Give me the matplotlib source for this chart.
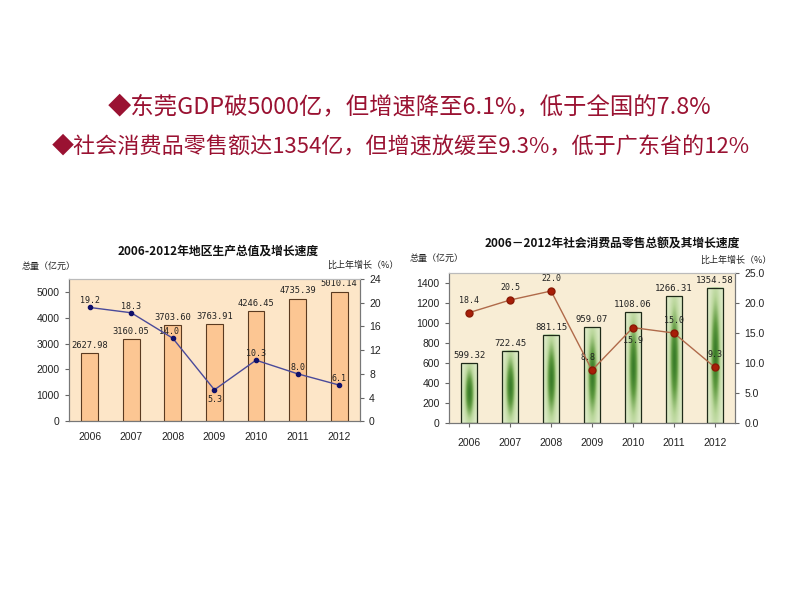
import numpy as np
import matplotlib
matplotlib.use("Agg")
import matplotlib.pyplot as plt
from matplotlib.colors import LinearSegmentedColormap

plt.rcParams['font.family'] = ['Noto Sans CJK SC', 'DejaVu Sans']

years = ['2006', '2007', '2008', '2009', '2010', '2011', '2012']
gdp = [2627.98, 3160.05, 3703.60, 3763.91, 4246.45, 4735.39, 5010.14]
gdp_growth = [19.2, 18.3, 14.0, 5.3, 10.3, 8.0, 6.1]
retail = [599.32, 722.45, 881.15, 959.07, 1108.06, 1266.31, 1354.58]
retail_growth = [18.4, 20.5, 22.0, 8.8, 15.9, 15.0, 9.3]

left_title = '2006-2012年地区生产总值及增长速度'
right_title = '2006－2012年社会消费品零售总额及其增长速度'
headline1 = '◆东莞GDP破5000亿，但增速降至6.1%，低于全国的7.8%'
headline2 = '◆社会消费品零售额达1354亿，但增速放缓至9.3%，低于广东省的12%'

red = '#9a1232'
fig = plt.figure(figsize=(8, 6), dpi=100)
fig.patch.set_facecolor('white')
fig.text(0.135, 1 - 107/600, headline1, fontsize=16.8, color=red, va='center', ha='left', fontweight='medium')
fig.text(0.065, 1 - 147/600, headline2, fontsize=15.9, color=red, va='center', ha='left', fontweight='medium')

x = np.arange(len(years))
mono = 'DejaVu Sans Mono'
sans = 'Liberation Sans'

def style_ticks(a):
    for lab in a.get_yticklabels() + a.get_xticklabels():
        lab.set_family(sans)
        lab.set_fontsize(7.5)
        lab.set_color('#222222')

# ---------- Left chart ----------
ax1 = fig.add_axes([0.086, 0.298, 0.364, 0.237])
ax1.set_facecolor('#fde6c8')
ax1.bar(x, gdp, width=0.4, color='#fcc693', edgecolor='#5a3a20', linewidth=0.8, zorder=2)
ax1.set_xlim(-0.5, 6.5)
ax1.set_ylim(0, 5500)
ax1.set_yticks(range(0, 5001, 1000))
ax1.set_xticks(x)
ax1.set_xticklabels(years)
ax1.tick_params(axis='y', length=3, color='#666666')
ax1.tick_params(axis='x', length=0, pad=8)
style_ticks(ax1)
for i, v in enumerate(gdp):
    ax1.text(i, v + 130, f'{v:.2f}', ha='center', va='bottom', fontsize=6.3, family=mono, color='#222222', zorder=5)
ax1b = ax1.twinx()
ax1b.set_ylim(0, 24)
ax1b.set_yticks(range(0, 25, 4))
ax1b.tick_params(axis='y', length=3, color='#666666')
style_ticks(ax1b)
ax1b.plot(x, gdp_growth, color='#4a4a9a', linewidth=1.0, marker='o', markersize=3,
          markerfacecolor='#10106a', markeredgecolor='#10106a', zorder=4)
offs1 = [(0, 1.1), (0, 1.1), (-0.1, 1.1), (0, -1.6), (0, 1.1), (0, 1.1), (0, 1.1)]
for i, v in enumerate(gdp_growth):
    dx, dy = offs1[i]
    ax1b.text(i + dx, v + dy, f'{v:.1f}', ha='center', va='center', fontsize=6, family=mono, color='#222222')
for a in (ax1, ax1b):
    for s in a.spines.values():
        s.set_color('#777777')
        s.set_linewidth(0.8)
    a.spines['top'].set_color('#bbbbbb')
fig.text(218/800, 1 - 251/600, left_title, ha='center', va='center', fontsize=8.5, fontweight='bold', color='#111111')
fig.text(22/800, 1 - 266/600, '总量（亿元）', ha='left', va='center', fontsize=6.5, color='#222222')
fig.text(327/800, 1 - 265/600, '比上年增长（%）', ha='left', va='center', fontsize=6.5, color='#222222')

# ---------- Right chart ----------
ax2 = fig.add_axes([0.561, 0.295, 0.358, 0.25])
ax2.set_facecolor('#f8edd5')
ax2.set_xlim(-0.5, 6.5)
ax2.set_ylim(0, 1500)
ax2.set_yticks(range(0, 1401, 200))
ax2.set_xticks(x)
ax2.set_xticklabels(years)
ax2.tick_params(axis='y', length=3, color='#666666')
ax2.tick_params(axis='x', length=3, pad=8, color='#666666')
style_ticks(ax2)

cmap = LinearSegmentedColormap.from_list('g', ['#e6efd2', '#b9d69a', '#5f9a40', '#2a7020'])
w = 0.4
ny, nx = 120, 40
yy, xx = np.mgrid[-1:1:ny*1j, -1:1:nx*1j]
for i, v in enumerate(retail):
    grad = np.exp(-(xx**2) / 0.3) * np.exp(-(yy**2) / 0.7)
    grad = 0.05 + 0.85 * grad
    ax2.imshow(grad, cmap=cmap, vmin=0, vmax=1, extent=(i - w/2, i + w/2, 0, v),
               aspect='auto', origin='lower', zorder=2, interpolation='bilinear')
ax2.bar(x, retail, width=w, facecolor='none', edgecolor='#1e2a18', linewidth=0.9, zorder=3)
for i, v in enumerate(retail):
    ax2.text(i, v + 30, f'{v:.2f}', ha='center', va='bottom', fontsize=6.5, family=mono, color='#222222', zorder=5)
ax2.set_xlim(-0.5, 6.5)
ax2.set_ylim(0, 1500)

ax2b = ax2.twinx()
ax2b.set_ylim(0, 25)
ax2b.set_yticks(range(0, 26, 5))
ax2b.set_yticklabels([f'{t:.1f}' for t in range(0, 26, 5)])
ax2b.tick_params(axis='y', length=3, color='#666666')
style_ticks(ax2b)
ax2b.plot(x, retail_growth, color='#b06a4a', linewidth=1.0, marker='o', markersize=5,
          markerfacecolor='#a81e08', markeredgecolor='#8a1a06', zorder=4)
offs2 = [(0, 2.1), (0, 2.1), (0, 2.1), (-0.1, 2.1), (0, -2.1), (0, 2.1), (0, 2.1)]
for i, v in enumerate(retail_growth):
    dx, dy = offs2[i]
    ax2b.text(i + dx, v + dy, f'{v:.1f}', ha='center', va='center', fontsize=6, family=mono, color='#222222')
for a in (ax2, ax2b):
    for s in a.spines.values():
        s.set_color('#777777')
        s.set_linewidth(0.8)
    a.spines['top'].set_color('#bbbbbb')
fig.text(612/800, 1 - 243/600, right_title, ha='center', va='center', fontsize=8.5, fontweight='bold', color='#111111')
fig.text(410/800, 1 - 258/600, '总量（亿元）', ha='left', va='center', fontsize=6.5, color='#222222')
fig.text(700/800, 1 - 260/600, '比上年增长（%）', ha='left', va='center', fontsize=6.5, color='#222222')

fig.savefig('out.png', dpi=100)
